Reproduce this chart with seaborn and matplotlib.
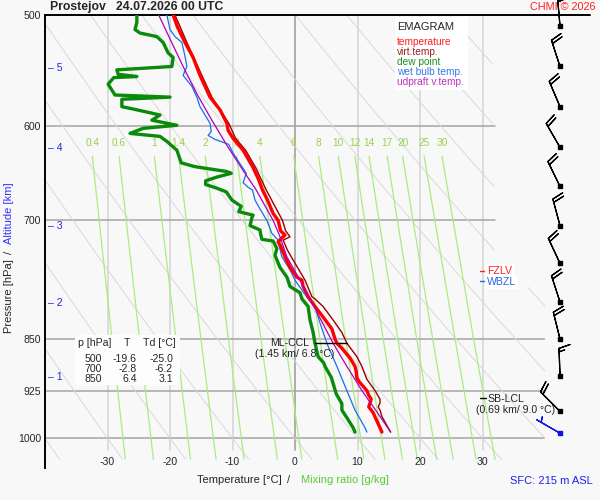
import numpy as np
import pandas as pd
import matplotlib
matplotlib.use("Agg")
import matplotlib.pyplot as plt
import seaborn as sns
from matplotlib.patches import Rectangle
from matplotlib.ticker import NullLocator

# ---- sounding profiles (pressure hPa, temperature degC) ----
temp_p = [990, 983, 970, 959, 950, 944, 938, 932, 925, 912, 906, 897, 889, 877, 863, 856, 850,
          836, 820, 806, 793, 780, 772, 768, 756, 743, 730, 725, 721, 717, 712, 700, 692, 677,
          666, 655, 642, 624, 612, 604, 597, 584, 572, 552, 536, 523, 510, 500]
temp_T = [13.9, 13.6, 13.0, 12.5, 11.8, 12.0, 12.2, 11.8, 11.5, 10.3, 9.9, 9.8, 9.6, 8.8, 7.5, 6.7, 6.4,
          5.9, 4.5, 3.2, 2.1, 1.3, 1.1, 0.3, -0.8, -1.6, -2.3, -2.7, -2.2, -1.6, -2.3, -2.7, -3.5, -4.4,
          -5.2, -5.8, -6.7, -8.3, -9.9, -10.7, -10.9, -12.0, -13.6, -15.2, -16.3, -17.6, -18.8, -19.5]

virt_p = [990, 983, 965, 955, 950, 944, 938, 925, 908, 889, 875, 856, 841, 824, 806, 796, 793,
          772, 756, 743, 735, 723, 719, 712, 700, 666, 642, 624, 612, 597, 572, 552, 523, 500]
virt_T = [15.3, 14.9, 13.9, 13.6, 13.3, 13.6, 13.6, 12.8, 11.5, 10.7, 9.9, 8.3, 7.5, 6.1, 4.5, 3.2, 2.7,
          1.6, 0.4, -0.6, -1.2, -1.9, -0.8, -1.5, -2.0, -4.6, -6.3, -7.9, -9.5, -10.6, -13.3, -14.9, -17.3, -19.2]

dew_p = [990, 983, 967, 955, 945, 930, 905, 889, 884, 875, 856, 841, 824, 806, 796, 788, 780, 768,
         756, 741, 733, 724, 722, 716, 711, 706, 697, 694, 690, 684, 677, 668, 664, 660, 656, 652,
         648, 646, 641, 637, 624, 615, 610, 607, 602, 599, 594, 589, 584, 581, 574, 572, 570, 560,
         554, 553, 551, 547, 544, 536, 532, 523, 518, 515, 512, 506, 500]
dew_T = [9.6, 9.3, 8.3, 7.5, 7.5, 6.6, 5.8, 4.8, 4.6, 3.7, 3.2, 2.9, 2.4, 2.1, 1.1, 0.8, -0.8, -1.3,
         -2.4, -3.2, -2.9, -3.5, -5.3, -5.5, -5.6, -7.2, -6.9, -6.7, -9.0, -8.6, -10.1, -11.0, -12.5, -14.3, -14.3, -12.5,
         -10.2, -11.0, -16.0, -18.2, -18.9, -20.5, -21.6, -26.4, -24.3, -18.9, -22.9, -21.6, -25.3, -27.7, -27.7, -20.0, -28.8, -29.9,
         -29.0, -25.3, -28.3, -28.5, -19.7, -19.5, -20.3, -21.1, -22.1, -24.8, -25.6, -25.3, -25.3]

wet_p = [990, 983, 955, 925, 889, 856, 828, 806, 796, 772, 759, 743, 722, 715, 700, 687, 677, 666,
         663, 658, 648, 627, 618, 613, 609, 605, 597, 581, 572, 562, 552, 544, 535, 523, 518, 512, 500]
wet_T = [11.5, 11.2, 9.6, 8.3, 6.7, 5.1, 4.0, 3.2, 2.1, 0.0, -0.8, -2.1, -2.8, -3.7, -4.5, -5.6, -6.4, -6.8,
         -7.5, -8.3, -7.8, -9.9, -10.6, -12.8, -13.9, -13.4, -13.6, -15.2, -15.7, -16.5, -17.9, -17.3, -17.6, -18.1, -19.2, -20.0, -20.5]

parcel_p = [990, 955, 925, 889, 856, 796, 772, 743, 717, 700, 666, 645, 620, 594, 570, 544, 520, 500]
parcel_T = [15.3, 12.9, 10.7, 8.3, 6.1, 2.4, 0.8, -1.3, -2.5, -3.5, -6.2, -8.3, -10.8, -13.3, -15.6, -17.9, -20.0, -21.8]

# ---- winds ----
wind_p = [509, 544, 581, 621, 662, 706, 751, 800, 850, 903, 957, 992]
wind_dir = [355, 342, 337, 330, 334, 345, 335, 342, 346, 358, 315, 300]
wind_kt = [20, 20, 20, 20, 20, 20, 20, 20, 20, 15, 20, 5]

# ---- diagram furniture ----
p_levels = [500, 600, 700, 850, 925, 1000]
t_ticks = [-30, -20, -10, 0, 10, 20, 30]
mix_ratios = [0.4, 0.6, 1, 1.4, 2, 3, 4, 6, 8, 10, 12, 14, 17, 20, 25, 30]
mix_labels = ["0.4", "0.6", "1", "1.4", "2", "3", "4", "6", "8", "10", "12", "14", "17", "20", "25", "30"]
theta_c = list(range(-40, 120, 10))
alt_km = [1, 2, 3, 4, 5]
alt_p = [905, 801, 706.5, 622, 545.5]

table_p = [500, 700, 850]
table_T = [-19.6, -2.8, 6.4]
table_Td = [-25.0, -6.2, 3.1]

BG = "#f8f8f8"
W, H = 600, 500

sns.set_style("white")
plt.rcParams["font.family"] = ["Liberation Sans", "DejaVu Sans"]

fig = plt.figure(figsize=(6, 5), dpi=100, facecolor=BG)
ax = fig.add_axes([45 / W, 1 - 468 / H, 500 / W, 453 / H])
ax.set_facecolor(BG)
ax.set_yscale("log")


def ftext(x, y, s, **kw):
    fig.text(x / W, 1 - y / H, s, **kw)


def px_T(x):
    return (x - 295) / 6.25


# isotherms / isobars
for t in t_ticks:
    ax.plot([t, t], [500, 1020], color="#9a9a9a" if t == 0 else "#d4d4d4", lw=1.1, zorder=1)
for p in p_levels[1:]:
    ax.plot([-40, 32 if p < 800 else 40], [p, p], color="#a5a5a5", lw=1.1, zorder=1)

# dry adiabats
pp = np.geomspace(500, 1035, 120)
for th in theta_c:
    tt = (th + 273.15) * (pp / 1000.0) ** 0.286 - 273.15
    tt = np.where((pp < 780) & (tt > 32), np.nan, tt)
    ax.plot(tt, pp, color="#d9d9d9", lw=0.7, zorder=1)

# mixing ratio lines
pm = np.geomspace(630, 1035, 60)
for w, lab in zip(mix_ratios, mix_labels):
    e = w * pm / (622.0 + w)
    le = np.log(e / 6.112)
    td = 243.5 * le / (17.67 - le)
    ax.plot(td, pm, color="#a8ee7e", lw=0.9, zorder=1)
    ax.text(td[0], 617, lab, color="#9ad24a", fontsize=7.3, ha="center", va="center", zorder=2)


# profiles
def draw(p, t, color, lw, z):
    df = pd.DataFrame({"T": t, "p": p})
    sns.lineplot(data=df, x="T", y="p", sort=False, estimator=None,
                 color=color, linewidth=lw, ax=ax, zorder=z)


draw(virt_p, virt_T, "#990000", 1.0, 3)
draw(wet_p, wet_T, "#1a6cf0", 0.9, 3)
draw(temp_p, temp_T, "#ff0000", 2.4, 4)
draw(parcel_p, parcel_T, "#b000b8", 0.9, 4)
draw(dew_p, dew_T, "#0a8a0a", 2.4, 4)

ax.set_xlim(-40, 40)
ax.set_ylim(1050, 500)
ax.set_xlabel("")
ax.set_ylabel("")
ax.set_xticks([])
ax.yaxis.set_minor_locator(NullLocator())
ax.set_yticks(p_levels)
ax.set_yticklabels([str(p) for p in p_levels])
ax.tick_params(axis="y", length=0, pad=3, labelsize=7.6)
for s in ["right", "bottom"]:
    ax.spines[s].set_visible(False)
for s in ["top", "left"]:
    ax.spines[s].set_color("black")
    ax.spines[s].set_linewidth(1.4)
ax.plot([40, 47.2], [500, 500], color="black", lw=1.4, clip_on=False)

for t in t_ticks:
    ax.text(t, 1040, str(t), ha="center", va="center", fontsize=7.6)

# altitude marks
for km, p in zip(alt_km, alt_p):
    ax.text(px_T(48), p, "\u2013 %d" % km, color="#2828e0", fontsize=7.6, ha="left", va="center")

# wind barbs
u = [-s * np.sin(np.radians(d)) for s, d in zip(wind_kt, wind_dir)]
v = [-s * np.cos(np.radians(d)) for s, d in zip(wind_kt, wind_dir)]
xb = [px_T(560)] * len(wind_p)
ax.barbs(xb[:-1], wind_p[:-1], u[:-1], v[:-1], length=6.3, color="black", lw=0.9,
         clip_on=False, zorder=6)
ax.barbs(xb[-1:], wind_p[-1:], u[-1:], v[-1:], length=6.3, color="#1010ee", lw=0.9,
         clip_on=False, zorder=6)
ax.plot(xb[:-1], wind_p[:-1], "s", color="black", ms=2.6, clip_on=False, zorder=7)
ax.plot(xb[-1:], wind_p[-1:], "s", color="#1010ee", ms=2.6, clip_on=False, zorder=7)

# legend box
fig.patches.append(Rectangle((395 / W, 1 - 90 / H), 73 / W, 73 / H, transform=fig.transFigure,
                             facecolor="white", edgecolor="none", zorder=2))
ftext(397, 27, "EMAGRAM", fontsize=8, va="center", zorder=5)
for i, (lab, col) in enumerate([("temperature", "#ff2020"), ("virt.temp.", "#a02020"),
                                ("dew point", "#209020"), ("wet bulb temp.", "#3377ee"),
                                ("udpraft v.temp.", "#bb33bb")]):
    ftext(397, 42 + 10 * i, lab, color=col, fontsize=7.3, va="center", zorder=5)

# table box
fig.patches.append(Rectangle((75 / W, 1 - 385 / H), 105 / W, 50 / H, transform=fig.transFigure,
                             facecolor="#fdfdfd", edgecolor="none", zorder=2))
ftext(78, 343, "p [hPa]", fontsize=7.6, va="center", zorder=5)
ftext(127, 343, "T", fontsize=7.6, va="center", ha="center", zorder=5)
ftext(143, 343, "Td [\u00b0C]", fontsize=7.6, va="center", zorder=5)
for i, (p, t, td) in enumerate(zip(table_p, table_T, table_Td)):
    y = 359 + 10 * i
    ftext(102, y, str(p), fontsize=7.6, va="center", ha="right", zorder=5)
    ftext(137, y, "%.1f" % t, fontsize=7.6, va="center", ha="right", zorder=5)
    ftext(173, y, "%.1f" % td, fontsize=7.6, va="center", ha="right", zorder=5)

# CCL / LCL / freezing levels
ax.plot([3.2, 8.3], [855, 855], color="black", lw=1, zorder=5)
ftext(290, 343, "ML-CCL", fontsize=7.6, ha="center", va="center", color="#222222", zorder=5)
ftext(295, 354, "(1.45 km/ 6.8 \u00b0C)", fontsize=7.6, ha="center", va="center", color="#222222", zorder=5)
ax.plot([px_T(480), px_T(486)], [937, 937], color="black", lw=1, zorder=5)
ftext(487, 399, "SB-LCL", fontsize=7.6, va="center", color="#222222", zorder=5)
ftext(516, 410, "(0.69 km/ 9.0 \u00b0C)", fontsize=7.6, ha="center", va="center", color="#222222", zorder=5)
ftext(487, 271, "FZLV", fontsize=7.6, va="center", color="#ff2020", zorder=5,
      bbox=dict(facecolor="white", edgecolor="none", boxstyle="square,pad=0.15"))
ftext(487, 282, "WBZL", fontsize=7.6, va="center", color="#2266ee", zorder=6,
      bbox=dict(facecolor="white", edgecolor="none", boxstyle="square,pad=0.15"))
ax.plot([px_T(480), px_T(486)], [760, 760], color="#ff2020", lw=1, zorder=7)
ax.plot([px_T(480), px_T(486)], [773, 773], color="#2266ee", lw=1, zorder=7)

# titles and axis labels
ftext(50, 7, "Prostejov   24.07.2026 00 UTC", fontsize=8.8, fontweight="bold", va="center")
ftext(596, 7, "CHMI \u00a9 2026", fontsize=7.8, color="#ff2020", ha="right", va="center")
ftext(9, 296, "Pressure [hPa]", rotation=90, fontsize=8, ha="center", va="center")
ftext(9, 252, "/", rotation=90, fontsize=8, ha="center", va="center")
ftext(9, 213, "Altitude [km]", rotation=90, fontsize=8, ha="center", va="center", color="#3333ff")
ftext(239.5, 480, "Temperature [\u00b0C]", fontsize=8, ha="center", va="center")
ftext(289, 480, "/", fontsize=8, ha="center", va="center")
ftext(344.5, 480, "Mixing ratio [g/kg]", fontsize=8, ha="center", va="center", color="#55cc33")
ftext(551, 481, "SFC: 215 m ASL", fontsize=8, ha="center", va="center", color="#2222ee")

fig.savefig("out.png", dpi=100, facecolor=BG)
